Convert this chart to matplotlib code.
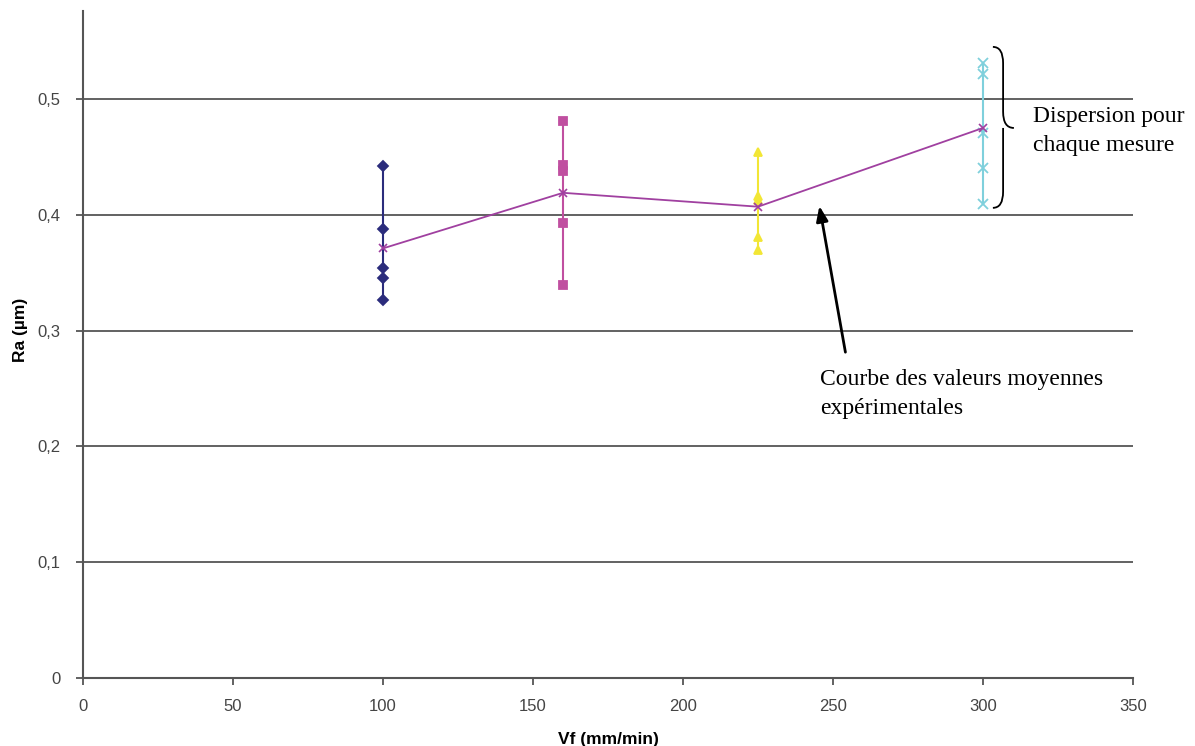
import matplotlib
matplotlib.use("Agg")
import matplotlib.pyplot as plt
from matplotlib.path import Path
from matplotlib.patches import PathPatch
from matplotlib.ticker import FuncFormatter

# Measured Ra values for each feed rate
vf = [100, 160, 225, 300]
ra_100 = [0.442, 0.388, 0.354, 0.345, 0.326]
ra_160 = [0.481, 0.443, 0.438, 0.393, 0.339]
ra_225 = [0.454, 0.416, 0.413, 0.381, 0.370]
ra_300 = [0.531, 0.522, 0.471, 0.440, 0.409]
ra_mean = [0.371, 0.419, 0.407, 0.475]

series = [ra_100, ra_160, ra_225, ra_300]
colors = ["#2b2c7c", "#c04fa0", "#f2e635", "#7fd0dc"]
markers = ["D", "s", "^", "x"]
msizes = [5, 6, 6, 7]

fig = plt.figure(figsize=(11.95, 7.46), dpi=100)
ax = fig.add_axes([83 / 1195, 68 / 746, 1050 / 1195, 667 / 746])

for x, vals, c, m, ms in zip(vf, series, colors, markers, msizes):
    ax.plot([x] * len(vals), vals, color=c, lw=1.5, marker=m, ms=ms,
            mec=c, mfc=c, mew=1.3, zorder=3)

ax.plot(vf, ra_mean, color="#a040a0", lw=1.3, marker="x", ms=6, mew=1.2, zorder=4)

ax.set_xlim(0, 350)
ax.set_ylim(0, 0.576)
ax.set_xticks(range(0, 351, 50))
ax.set_yticks([0, 0.1, 0.2, 0.3, 0.4, 0.5])
ax.yaxis.set_major_formatter(FuncFormatter(lambda v, p: ("%g" % round(v, 2)).replace(".", ",")))
ax.grid(axis="y", color="#555555", lw=1.3)
ax.set_axisbelow(True)
for s in ["top", "right"]:
    ax.spines[s].set_visible(False)
for s in ["left", "bottom"]:
    ax.spines[s].set_color("#555555")
    ax.spines[s].set_linewidth(1.5)
ax.tick_params(direction="out", length=5, color="#555555", width=1.3,
               labelsize=12, labelcolor="#444444")
ax.tick_params(axis="x", pad=10)
ax.tick_params(axis="y", pad=11)
for lab in ax.get_xticklabels() + ax.get_yticklabels():
    lab.set_family("Liberation Sans")

ax.set_xlabel("Vf (mm/min)", fontsize=12.5, fontweight="bold", family="Liberation Sans", labelpad=13)
ax.set_ylabel("Ra (µm)", fontsize=12.5, fontweight="bold", family="Liberation Sans")
ax.yaxis.set_label_coords(-0.052, 0.522)

# curly brace around the 300 mm/min dispersion
x0, xv, xt = 303.3, 306.7, 310.3
yt, yb, ym = 0.545, 0.406, 0.475
d = 0.014
verts = [(x0, yt), (xv, yt), (xv, yt - d),
         (xv, ym + d),
         (xv, ym), (xt, ym),
         (xv, ym), (xv, ym - d),
         (xv, yb + d),
         (xv, yb), (x0, yb)]
codes = [Path.MOVETO, Path.CURVE3, Path.CURVE3,
         Path.LINETO,
         Path.CURVE3, Path.CURVE3,
         Path.MOVETO, Path.CURVE3,
         Path.LINETO,
         Path.CURVE3, Path.CURVE3]
ax.add_patch(PathPatch(Path(verts, codes), fill=False, lw=1.3, color="black", clip_on=False))

fig.text(1033 / 1195, 1 - 131 / 746, "Dispersion pour\nchaque mesure", family="Liberation Serif",
         fontsize=17, va="center", ha="left", linespacing=1.45)

ax.annotate("", xy=(245.3, 0.41), xytext=(254.3, 0.279),
            arrowprops=dict(arrowstyle="-|>,head_length=0.9,head_width=0.35", color="black", lw=2))
fig.text(820 / 1195, 1 - 394 / 746, "Courbe des valeurs moyennes\nexpérimentales", family="Liberation Serif",
         fontsize=17, va="center", ha="left", linespacing=1.55)

fig.savefig("out.png", dpi=100)
